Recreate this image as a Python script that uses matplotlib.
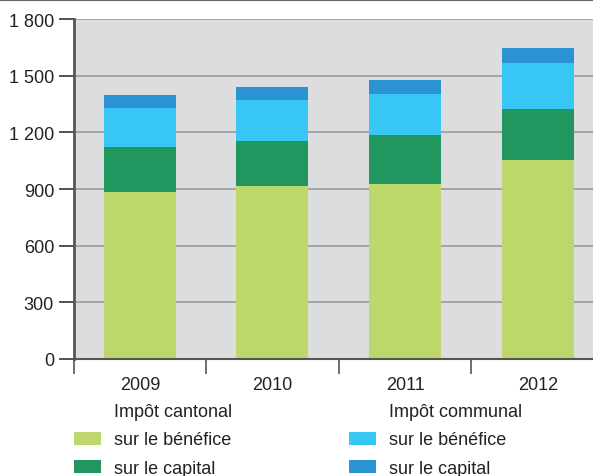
import matplotlib.pyplot as plt
import numpy as np
from matplotlib.lines import Line2D
from matplotlib.patches import Patch

plt.rcParams["font.family"] = ["Liberation Sans", "DejaVu Sans"]

years = ["2009", "2010", "2011", "2012"]
cantonal_benefice = [886, 916, 926, 1053]
cantonal_capital = [236, 238, 260, 271]
communal_benefice = [207, 217, 217, 243]
communal_capital = [69, 69, 74, 79]

series = [
    ("sur le bénéfice", cantonal_benefice, "#bdd76b"),
    ("sur le capital", cantonal_capital, "#21965e"),
    ("sur le bénéfice", communal_benefice, "#38c6f4"),
    ("sur le capital", communal_capital, "#2b92d3"),
]

INK = "#222222"
AXIS = "#555555"

fig = plt.figure(figsize=(5.93, 4.77), dpi=100)
ax = fig.add_axes([0.124, 0.2453, 0.8946, 0.7127])
ax.set_facecolor("#dcdddf")

x = np.arange(len(years))
bottom = np.zeros(len(years))
for label, vals, color in series:
    ax.bar(x, vals, width=0.543, bottom=bottom, color=color, zorder=3, linewidth=0)
    bottom += np.array(vals)

ax.set_xlim(-0.5, 3.5)
ax.set_ylim(0, 1800)
ax.set_yticks(range(0, 1801, 300))
ax.set_yticklabels([f"{v:,}".replace(",", " ") for v in range(0, 1801, 300)])
ax.yaxis.grid(True, color="#9a9a9a", linewidth=1.2, zorder=1)
ax.set_axisbelow(True)

ax.set_xticks(x)
ax.set_xticklabels(years)
ax.set_xticks(np.arange(-0.5, 3.6, 1.0), minor=True)
ax.tick_params(axis="x", which="major", length=0, pad=12, labelsize=13, labelcolor=INK)
ax.tick_params(axis="x", which="minor", length=11, width=1.2, color=AXIS, direction="out")
ax.tick_params(axis="y", length=11, width=1.2, color="#333333", pad=3, labelsize=13, labelcolor=INK)

for side in ["top", "right"]:
    ax.spines[side].set_visible(False)
ax.spines["left"].set_color(AXIS)
ax.spines["left"].set_linewidth(2)
ax.spines["bottom"].set_color(AXIS)
ax.spines["bottom"].set_linewidth(1.5)
ax.spines["bottom"].set_zorder(4)

# thin rule across the top of the figure
fig.add_artist(Line2D([0, 1], [0.998, 0.998], transform=fig.transFigure, color="#666666", linewidth=1.5))

blank = Patch(facecolor="none", edgecolor="none")
handles = [blank,
           Patch(facecolor=series[0][2]), Patch(facecolor=series[1][2]),
           blank,
           Patch(facecolor=series[2][2]), Patch(facecolor=series[3][2])]
labels = ["Impôt cantonal", series[0][0], series[1][0],
          "Impôt communal", series[2][0], series[3][0]]
leg = fig.legend(handles, labels, ncol=2, loc="upper left",
                 bbox_to_anchor=(0.124, 0.1534), frameon=False, fontsize=13,
                 handlelength=1.5, handleheight=0.72, handletextpad=0.72,
                 columnspacing=6.47, labelspacing=0.64, borderaxespad=0,
                 borderpad=0)
for t in leg.get_texts():
    t.set_color(INK)

fig.savefig("out.png", dpi=100)
